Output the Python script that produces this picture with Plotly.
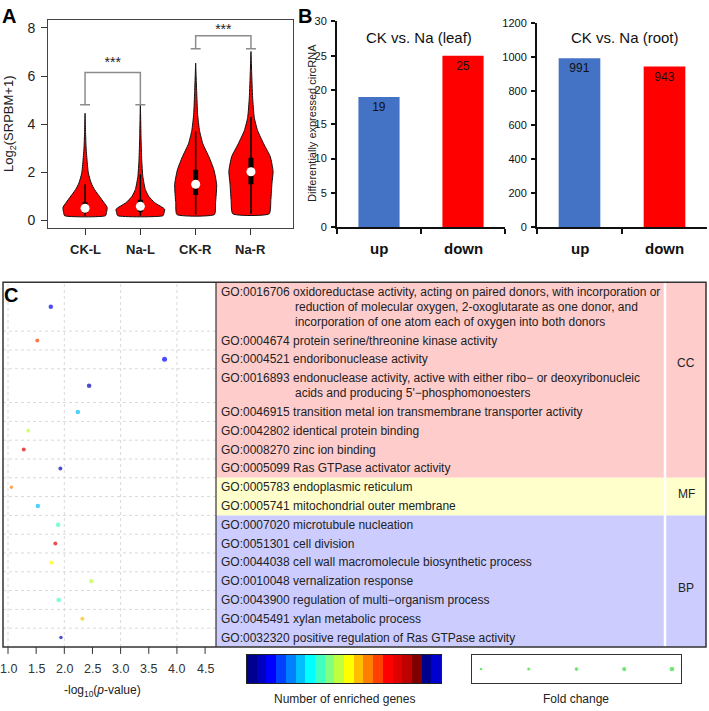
import plotly.graph_objects as go

W, H = 709, 711
def fx(p): return p / W
def fy(p): return 1 - p / H

FONT = "Liberation Sans, Arial, sans-serif"

# ---------------- Panel A data (violin profiles) ----------------
groups = ["CK-L", "Na-L", "CK-R", "Na-R"]
ckl_y = [0.19, 0.35, 0.53, 0.87, 1.28, 1.55, 1.96, 2.5, 3.05, 3.7, 4.45]
ckl_w = [0.37, 0.39, 0.40, 0.30, 0.17, 0.11, 0.06, 0.036, 0.018, 0.008, 0.0]
nal_y = [0.19, 0.32, 0.46, 0.73, 1.0, 1.28, 1.82, 2.5, 3.45, 4.2, 4.8]
nal_w = [0.41, 0.43, 0.44, 0.26, 0.15, 0.09, 0.045, 0.025, 0.012, 0.006, 0.0]
ckr_y = [0.24, 0.73, 1.48, 2.1, 2.64, 3.18, 3.73, 4.4, 5.36, 6.54]
ckr_w = [0.34, 0.36, 0.38, 0.33, 0.24, 0.13, 0.07, 0.036, 0.018, 0.0]
nar_y = [0.27, 0.87, 1.55, 2.03, 2.64, 3.18, 3.73, 4.27, 5.1, 6.18, 7.02]
nar_w = [0.33, 0.36, 0.38, 0.40, 0.35, 0.23, 0.12, 0.06, 0.03, 0.012, 0.0]
violin_y = [ckl_y, nal_y, ckr_y, nar_y]
violin_w = [ckl_w, nal_w, ckr_w, nar_w]

whisk_lo = [0.19, 0.19, 0.24, 0.27]
whisk_hi = [1.50, 1.90, 3.70, 4.30]
box_q1 = [0.30, 0.35, 1.05, 1.50]
box_q3 = [0.75, 0.85, 2.10, 2.60]
medians = [0.50, 0.58, 1.50, 2.02]

sig_left = [0, 2]
sig_right = [1, 3]
sig_base = [4.80, 7.13]
sig_top = [6.15, 7.67]
sig_text_y = [6.52, 7.88]
sig_label = ["***", "***"]

# ---------------- Panel B data ----------------
bar_cats = ["up", "down"]
leaf_vals = [19, 25]
root_vals = [991, 943]
bar_colors = ["#4472C4", "#FF0000"]

# ---------------- Panel C data ----------------
go_ids = ["GO:0016706", "GO:0004674", "GO:0004521", "GO:0016893", "GO:0046915",
          "GO:0042802", "GO:0008270", "GO:0005099", "GO:0005783", "GO:0005741",
          "GO:0007020", "GO:0051301", "GO:0044038", "GO:0010048", "GO:0043900",
          "GO:0045491", "GO:0032320"]
go_lines = [
    ["oxidoreductase activity, acting on paired donors, with incorporation or",
     "reduction of molecular oxygen, 2-oxoglutarate as one donor, and",
     "incorporation of one atom each of oxygen into both donors"],
    ["protein serine/threonine kinase activity"],
    ["endoribonuclease activity"],
    ["endonuclease activity, active with either ribo\u2212 or deoxyribonucleic",
     "acids and producing 5'\u2212phosphomonoesters"],
    ["transition metal ion transmembrane transporter activity"],
    ["identical protein binding"],
    ["zinc ion binding"],
    ["Ras GTPase activator activity"],
    ["endoplasmic reticulum"],
    ["mitochondrial outer membrane"],
    ["microtubule nucleation"],
    ["cell division"],
    ["cell wall macromolecule biosynthetic process"],
    ["vernalization response"],
    ["regulation of multi\u2212organism process"],
    ["xylan metabolic process"],
    ["positive regulation of Ras GTPase activity"],
]
go_cat = ["CC"] * 8 + ["MF"] * 2 + ["BP"] * 7
go_logp = [1.76, 1.52, 3.78, 2.44, 2.24, 1.36, 1.28, 1.93, 1.06, 1.53,
           1.89, 1.84, 1.77, 2.48, 1.90, 2.32, 1.94]
go_gene_idx = [2, 13, 2, 1, 5, 9, 15, 1, 12, 5, 7, 15, 10, 9, 7, 11, 1]
go_fold_size = [4.5, 4, 5, 4.5, 4.5, 4, 4, 4, 3.5, 4.5, 4.5, 4, 4, 4.5, 4.5, 4, 3.5]
x_ticks = [1.0, 1.5, 2.0, 2.5, 3.0, 3.5, 4.0, 4.5]
grid_x = [1, 2, 3, 4]

cat_names = ["CC", "MF", "BP"]
cat_colors = ["#FFCCCC", "#FFFFCC", "#CCCCFF"]
cat_label_y = [363, 496, 592]

jet_colors = ["#00008F", "#0000BF", "#0000FF", "#0040FF", "#0080FF", "#00BFFF",
              "#00FFFF", "#40FFBF", "#80FF80", "#BFFF40", "#FFFF00", "#FFBF00",
              "#FF8000", "#FF4000", "#FF0000", "#DF0000", "#BF0000", "#800000",
              "#00008F", "#0000CF"]
fold_levels = [1, 2, 3, 4, 5]
fold_sizes = [3.5, 4, 4.5, 5, 5.5]

jet_scale = [[i / (len(jet_colors) - 1), c] for i, c in enumerate(jet_colors)]

fig = go.Figure()

# ---------------- Panel A traces ----------------
for i, (ys, ws) in enumerate(zip(violin_y, violin_w)):
    xs = [i + w for w in ws] + [i - w for w in reversed(ws)]
    yy = list(ys) + list(reversed(ys))
    fig.add_trace(go.Scatter(x=xs + [xs[0]], y=yy + [yy[0]], mode="lines", fill="toself",
                             fillcolor="#FF0000", line=dict(color="#111", width=1, shape="spline", smoothing=0.5),
                             xaxis="x", yaxis="y", hoverinfo="skip", showlegend=False))
wx, wy, bx, by = [], [], [], []
for i in range(len(groups)):
    wx += [i, i, None]; wy += [whisk_lo[i], whisk_hi[i], None]
    bx += [i, i, None]; by += [box_q1[i], box_q3[i], None]
fig.add_trace(go.Scatter(x=wx, y=wy, mode="lines", line=dict(color="#000", width=1.5),
                         xaxis="x", yaxis="y", showlegend=False, hoverinfo="skip"))
fig.add_trace(go.Scatter(x=bx, y=by, mode="lines", line=dict(color="#000", width=5),
                         xaxis="x", yaxis="y", showlegend=False, hoverinfo="skip"))
fig.add_trace(go.Scatter(x=list(range(len(groups))), y=medians, mode="markers",
                         marker=dict(color="white", size=9), xaxis="x", yaxis="y",
                         showlegend=False, hoverinfo="skip"))
sx, sy = [], []
cap = 0.09
for l, r, b, t in zip(sig_left, sig_right, sig_base, sig_top):
    sx += [l - cap, l + cap, None, l, l, r, r, None, r - cap, r + cap, None]
    sy += [b, b, None, b, t, t, b, None, b, b, None]
fig.add_trace(go.Scatter(x=sx, y=sy, mode="lines", line=dict(color="#8c8c8c", width=1.5),
                         xaxis="x", yaxis="y", showlegend=False, hoverinfo="skip"))
fig.add_trace(go.Scatter(x=[(l + r) / 2 for l, r in zip(sig_left, sig_right)], y=sig_text_y,
                         mode="text", text=sig_label, textfont=dict(size=14, color="#222"),
                         xaxis="x", yaxis="y", showlegend=False, hoverinfo="skip"))

# ---------------- Panel B traces ----------------
for vals, ax, ay in [(leaf_vals, "x2", "y2"), (root_vals, "x3", "y3")]:
    fig.add_trace(go.Bar(x=bar_cats, y=vals, marker=dict(color=bar_colors, line=dict(width=0)),
                         width=0.49, text=[str(v) for v in vals], textposition="inside",
                         insidetextanchor="end", textfont=dict(size=12, color="#111"),
                         xaxis=ax, yaxis=ay, showlegend=False, hoverinfo="skip"))

# ---------------- Panel C: rows ----------------
row_units = [1 + 0.8 * (len(l) - 1) for l in go_lines]
row_top = []
acc = 0
for u in row_units:
    row_top.append(acc)
    acc += u
total_units = acc
row_center = [t + u / 2 for t, u in zip(row_top, row_units)]

fig.add_trace(go.Scatter(x=go_logp, y=row_center, mode="markers",
                         marker=dict(color=go_gene_idx, colorscale=jet_scale, cmin=0,
                                     cmax=len(jet_colors) - 1, size=go_fold_size, line=dict(width=0)),
                         xaxis="x4", yaxis="y4", showlegend=False, hoverinfo="skip"))

fig.add_trace(go.Heatmap(z=[list(range(len(jet_colors)))], colorscale=jet_scale, zmin=0,
                         zmax=len(jet_colors) - 1, showscale=False, xaxis="x5", yaxis="y5",
                         hoverinfo="skip"))
fig.add_trace(go.Scatter(x=fold_levels, y=[0] * len(fold_levels), mode="markers",
                         marker=dict(color="#33DD33", size=fold_sizes), xaxis="x6", yaxis="y6",
                         showlegend=False, hoverinfo="skip"))

shapes = []
annotations = []

def label(x, y, text, size=12, color="#222", xref="paper", yref="paper", xanchor="center",
          yanchor="middle", angle=0):
    annotations.append(dict(xref=xref, yref=yref, x=x, y=y, text=text, showarrow=False,
                            xanchor=xanchor, yanchor=yanchor, textangle=angle,
                            font=dict(size=size, color=color)))

# category backgrounds
for name, col in zip(cat_names, cat_colors):
    idx = [i for i, c in enumerate(go_cat) if c == name]
    y0 = row_top[idx[0]]
    y1 = row_top[idx[-1]] + row_units[idx[-1]]
    shapes.append(dict(type="rect", xref="paper", yref="y4", x0=fx(216), x1=fx(706), y0=y0, y1=y1,
                       fillcolor=col, line=dict(width=0), layer="below"))
shapes.append(dict(type="line", xref="paper", yref="y4", x0=fx(665), x1=fx(665), y0=0, y1=total_units,
                   line=dict(color="white", width=2.5)))
# gridlines in scatter area
for t in row_top[1:]:
    shapes.append(dict(type="line", xref="x4 domain", yref="y4", x0=0, x1=1, y0=t, y1=t,
                       line=dict(color="#d9d9d9", width=1, dash="dot"), layer="below"))
for g in grid_x:
    shapes.append(dict(type="line", xref="x4", yref="y4 domain", x0=g, x1=g, y0=0, y1=1,
                       line=dict(color="#d9d9d9", width=1, dash="dot"), layer="below"))
# x tick marks under panel C
for v in x_ticks:
    shapes.append(dict(type="line", xref="x4", yref="paper", x0=v, x1=v, y0=fy(652), y1=fy(659),
                       line=dict(color="#333", width=1)))
# panel C frame and separator
shapes.append(dict(type="rect", xref="paper", yref="paper", x0=fx(3), x1=fx(706), y0=fy(652), y1=fy(281),
                   line=dict(color="#333", width=1.5)))
shapes.append(dict(type="line", xref="paper", yref="paper", x0=fx(216), x1=fx(216), y0=fy(652), y1=fy(281),
                   line=dict(color="#333", width=1.2)))

# GO text
for i, (gid, lines) in enumerate(zip(go_ids, go_lines)):
    for j, line in enumerate(lines):
        txt = f"{gid} {line}" if j == 0 else line
        label(fx(219) if j == 0 else fx(293), row_top[i] + 0.5 + 0.8 * j, txt,
              yref="y4", xanchor="left")
for name, ly in zip(cat_names, cat_label_y):
    label(fx(686), fy(ly), name)

# x tick labels as text under the axes
for i, g in enumerate(groups):
    label(i, fy(248), f"<b>{g}</b>", size=13, xref="x")
for ax in ["x2", "x3"]:
    for c in bar_cats:
        label(c, fy(247), f"<b>{c}</b>", size=15, color="#111", xref=ax)
for v in x_ticks:
    label(v, fy(674), f"{v:.1f}", size=12.5, color="#333", xref="x4")

# other labels
label(fx(9), fy(10), "<b>A</b>", size=20, color="#000")
label(fx(305), fy(10), "<b>B</b>", size=20, color="#000")
label(fx(11), fy(294), "<b>C</b>", size=20, color="#000")
label(fx(10), fy(120), "Log<sub>2</sub>(SRPBM+1)", size=13, angle=-90)
label(fx(312), fy(119), "Differentially expressed circRNA", size=11, angle=-90)
label(fx(419), fy(32), "CK vs. Na (leaf)", size=15, color="#111")
label(fx(625), fy(32), "CK vs. Na (root)", size=15, color="#111")
label(fx(102), fy(697), "-log<sub>10</sub>(<i>p</i>-value)", size=12)
label(fx(344), fy(705), "Number of enriched genes", size=12)
label(fx(576), fy(705), "Fold change", size=12)

fig.update_layout(
    width=W, height=H, autosize=False, margin=dict(l=0, r=0, t=0, b=0),
    paper_bgcolor="white", plot_bgcolor="rgba(0,0,0,0)",
    font=dict(family=FONT, color="#222"),
    showlegend=False,
    shapes=shapes, annotations=annotations,
    xaxis=dict(domain=[fx(48), fx(293)], range=[-0.67, 3.76], anchor="y",
               tickvals=list(range(len(groups))), showticklabels=False,
               ticks="outside", ticklen=6, tickcolor="#333", showline=True, mirror=True,
               linecolor="#444", linewidth=1, showgrid=False, zeroline=False),
    yaxis=dict(domain=[fy(226), fy(14)], range=[-0.33, 8.34], anchor="x",
               tickvals=[0, 2, 4, 6, 8], ticks="outside", ticklen=6, tickcolor="#333",
               showline=True, mirror=True, linecolor="#444", linewidth=1, showgrid=False,
               zeroline=False, tickfont=dict(size=14, color="#222"), ticklabelstandoff=3),
    xaxis2=dict(domain=[fx(337), fx(505)], anchor="y2", type="category", range=[-0.5, 1.5],
                categoryorder="array", categoryarray=bar_cats, tickson="boundaries",
                showticklabels=False,
                ticks="outside", ticklen=5, tickwidth=2, tickcolor="#111", showline=True,
                linecolor="#111", linewidth=2, showgrid=False, zeroline=False),
    yaxis2=dict(domain=[fy(225), fy(15.7)], anchor="x2", range=[0, 30], tickvals=[0, 5, 10, 15, 20, 25, 30],
                ticks="outside", ticklen=4, tickwidth=1.5, tickcolor="#111", showline=True,
                linecolor="#111", linewidth=2, showgrid=False, zeroline=False,
                tickfont=dict(size=11, color="#111"), ticklabelstandoff=2),
    xaxis3=dict(domain=[fx(537), fx(707)], anchor="y3", type="category", range=[-0.5, 1.5],
                categoryorder="array", categoryarray=bar_cats, tickson="boundaries",
                showticklabels=False,
                ticks="outside", ticklen=5, tickwidth=2, tickcolor="#111", showline=True,
                linecolor="#111", linewidth=2, showgrid=False, zeroline=False),
    yaxis3=dict(domain=[fy(225), fy(17)], anchor="x3", range=[0, 1200],
                tickvals=[0, 200, 400, 600, 800, 1000, 1200],
                ticks="outside", ticklen=4, tickwidth=1.5, tickcolor="#111", showline=True,
                linecolor="#111", linewidth=2, showgrid=False, zeroline=False,
                tickfont=dict(size=11, color="#111"), ticklabelstandoff=2),
    xaxis4=dict(domain=[fx(3), fx(216)], anchor="y4", range=[0.911, 4.694],
                showticklabels=False, ticks="", showline=False, showgrid=False, zeroline=False),
    yaxis4=dict(domain=[fy(652), fy(281)], anchor="x4", range=[total_units, 0],
                showticklabels=False, ticks="", showline=False, showgrid=False, zeroline=False),
    xaxis5=dict(domain=[fx(247), fx(441)], anchor="y5", range=[-0.5, len(jet_colors) - 0.5],
                showticklabels=False, ticks="", showline=True, mirror=True, linecolor="#222",
                linewidth=1.2, showgrid=False, zeroline=False),
    yaxis5=dict(domain=[fy(689), fy(660)], anchor="x5", range=[-0.5, 0.5],
                showticklabels=False, ticks="", showline=True, mirror=True, linecolor="#222",
                linewidth=1.2, showgrid=False, zeroline=False),
    xaxis6=dict(domain=[fx(472), fx(681)], anchor="y6", range=[0.81, 5.19],
                showticklabels=False, ticks="", showline=True, mirror=True, linecolor="#333",
                linewidth=1.2, showgrid=False, zeroline=False),
    yaxis6=dict(domain=[fy(689), fy(660)], anchor="x6", range=[-1, 1],
                showticklabels=False, ticks="", showline=True, mirror=True, linecolor="#333",
                linewidth=1.2, showgrid=False, zeroline=False),
)

fig.write_html("out.html", config={"displayModeBar": False},
               post_script="document.body.style.margin='0';")
